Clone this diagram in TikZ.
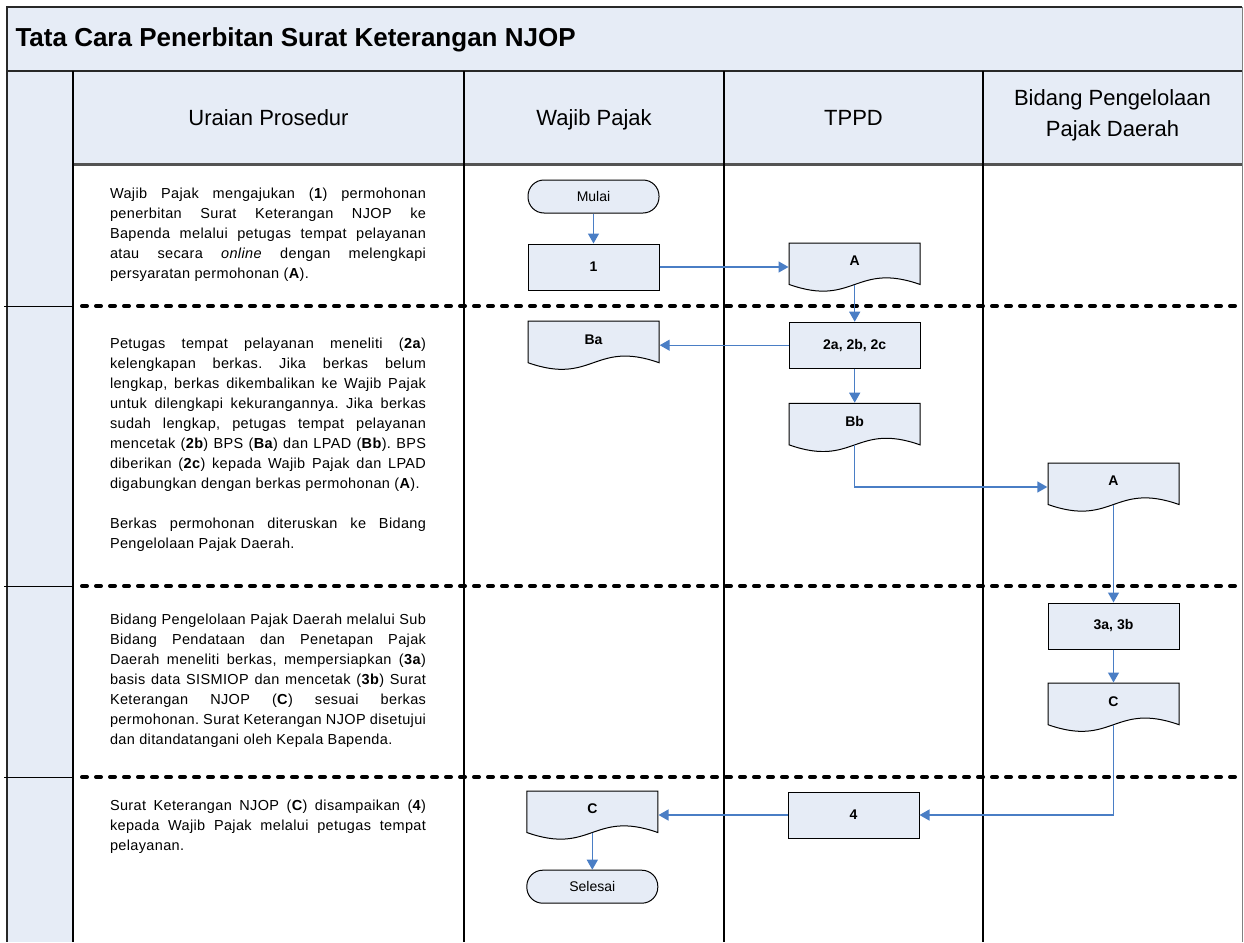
\documentclass[tikz,border=0pt]{standalone}
\usepackage{fontspec}
\setmainfont{Liberation Sans}
\newfontfamily\descfont[LetterSpace=2.5]{Liberation Sans}
\usetikzlibrary{arrows.meta, positioning}
\definecolor{laneblue}{RGB}{230,236,246}
\definecolor{flowblue}{RGB}{74,126,197}
\definecolor{frameline}{RGB}{40,40,40}
\tolerance=10000
\hyphenpenalty=10000
\hbadness=10000
\frenchspacing

\begin{document}
\begin{tikzpicture}[x=1pt, y=-1pt,
    term/.style={draw, line width=1pt, fill=laneblue, rounded corners=16pt,
      minimum width=131pt, minimum height=33pt, inner sep=0pt,
      font=\fontsize{14}{16}\selectfont},
    proc/.style={draw, line width=1pt, fill=laneblue,
      minimum width=131pt, minimum height=46pt, inner sep=0pt,
      font=\fontsize{14}{16}\selectfont\bfseries},
    doc/.style={minimum width=132pt, minimum height=49pt, inner sep=0pt, text depth=12pt,
      font=\fontsize{14}{16}\selectfont\bfseries,
      path picture={
        \filldraw[fill=laneblue, draw=black, line width=1pt]
          ([shift={(0.5pt,-0.5pt)}]path picture bounding box.north west)
          -- ([shift={(-0.5pt,-0.5pt)}]path picture bounding box.north east)
          -- ([shift={(-0.5pt,7pt)}]path picture bounding box.south east)
          .. controls +(-65pt,23pt) and +(65pt,-23pt) ..
          ([shift={(0.5pt,7pt)}]path picture bounding box.south west) -- cycle;}},
    arr/.style={-{Triangle[length=10pt,width=11pt]}, line width=1.4pt, flowblue},
    sep/.style={line width=4pt, dash pattern=on 5pt off 9pt, line cap=round},
    desc/.style={text width=316pt, align=justify, inner sep=0pt,
      font=\descfont\fontsize{14.5}{20}\selectfont},
    head/.style={font=\fontsize{22}{31}\selectfont, align=center}
  ]
  \useasboundingbox (0,0) rectangle (1244,942);
  \fill[laneblue] (7,7) rectangle (1242,71);
  \fill[laneblue] (73,71) rectangle (1242,164);
  \fill[laneblue] (7,71) rectangle (73,942);
  \draw[frameline, line width=2pt] (1242,7) -- (7,7) -- (7,942);
  \draw[gray, line width=1pt] (1242,7) -- (1242,942);
  \draw[frameline, line width=2pt] (7,71) -- (1242,71);
  \draw[frameline!80, line width=3pt] (73,164) -- (1242,164);
  \foreach \x in {73,464,724,983} \draw[line width=1.8pt] (\x,71) -- (\x,942);
  \foreach \y in {306,586,777} {
    \draw[line width=1pt] (4,\y) -- (73,\y);
    \draw[sep] (82,\y) -- (1242,\y);
  }

  \node[font=\fontsize{26}{30}\selectfont\bfseries, anchor=west] (judul) at (12,40)
    {Tata Cara Penerbitan Surat Keterangan NJOP};
  \node[head, anchor=base] (hUraian) at (268.5,125) {Uraian Prosedur};
  \node[head, anchor=base] (hWP) at (594,125) {Wajib Pajak};
  \node[head, anchor=base] (hTPPD) at (853.5,125) {TPPD};
  \node[head] (hBidang) at (1112.5,115) {Bidang Pengelolaan\\Pajak Daerah};

  \node[desc] (u1) at (268,235) {Wajib Pajak mengajukan (\textbf{1}) permohonan\linebreak
    penerbitan Surat Keterangan NJOP ke\linebreak
    Bapenda melalui petugas tempat pelayanan\linebreak
    atau secara \emph{online} dengan melengkapi\linebreak
    persyaratan permohonan (\textbf{A}).};
  \node[desc] (u2) at (268,445) {Petugas tempat pelayanan meneliti (\textbf{2a})\linebreak
    kelengkapan berkas. Jika berkas belum\linebreak
    lengkap, berkas dikembalikan ke Wajib Pajak\linebreak
    untuk dilengkapi kekurangannya. Jika berkas\linebreak
    sudah lengkap, petugas tempat pelayanan\linebreak
    mencetak (\textbf{2b}) BPS (\textbf{Ba}) dan LPAD (\textbf{Bb}). BPS\linebreak
    diberikan (\textbf{2c}) kepada Wajib Pajak dan LPAD\linebreak
    digabungkan dengan berkas permohonan (\textbf{A}).\par\vspace{20pt}
    Berkas permohonan diteruskan ke Bidang\linebreak
    Pengelolaan Pajak Daerah.};
  \node[desc] (u3) at (268,681) {Bidang Pengelolaan Pajak Daerah melalui Sub\linebreak
    Bidang Pendataan dan Penetapan Pajak\linebreak
    Daerah meneliti berkas, mempersiapkan (\textbf{3a})\linebreak
    basis data SISMIOP dan mencetak (\textbf{3b}) Surat\linebreak
    Keterangan NJOP (\textbf{C}) sesuai berkas\linebreak
    permohonan. Surat Keterangan NJOP disetujui\linebreak
    dan ditandatangani oleh Kepala Bapenda.};
  \node[desc, anchor=north] (u4) at (268,800) {Surat Keterangan NJOP (\textbf{C}) disampaikan (\textbf{4})\linebreak
    kepada Wajib Pajak melalui petugas tempat\linebreak
    pelayanan.};

  \node[term] (mulai) at (593.5,196.5) {Mulai};
  \node[proc, below=30pt of mulai] (p1) {1};
  \node[doc, right=129pt of p1] (dA) {A};
  \node[proc, below=30pt of dA] (p2) {2a, 2b, 2c};
  \node[doc, left=129pt of p2] (dBa) {Ba};
  \node[doc, below=34pt of p2] (dBb) {Bb};
  \node[doc] (dA2) at (1113.5,487) {A};
  \node[proc] (p3) at (1113.5,626) {3a, 3b};
  \node[doc, below=33pt of p3] (dC) {C};
  \node[proc] (p4) at (853.5,815) {4};
  \node[doc, left=129pt of p4] (dC2) {C};
  \node[term, below=30pt of dC2] (selesai) {Selesai};

  \draw[arr] (mulai) -- (p1);
  \draw[arr] (p1) -- (dA);
  \draw[arr] ([yshift=7pt]dA.south) -- (p2);
  \draw[arr] (p2) -- (dBa);
  \draw[arr] (p2) -- (dBb);
  \draw[arr] ([yshift=7pt]dBb.south) |- (dA2);
  \draw[arr] ([yshift=7pt]dA2.south) -- (p3);
  \draw[arr] (p3) -- (dC);
  \draw[arr] ([yshift=7pt]dC.south) |- (p4);
  \draw[arr] (p4) -- (dC2);
  \draw[arr] ([yshift=7pt]dC2.south) -- (selesai);
\end{tikzpicture}
\end{document}
